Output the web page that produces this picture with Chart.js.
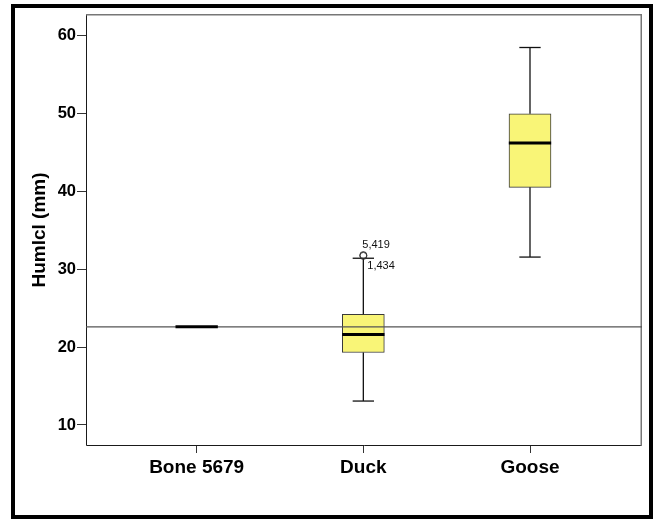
<!DOCTYPE html>
<html>
<head>
<meta charset="utf-8">
<title>Humlcl boxplot</title>
<script src="https://cdn.jsdelivr.net/npm/chart.js@4.4.1/dist/chart.umd.min.js"></script>
<style>
  html, body { margin: 0; padding: 0; background: #fff; }
  #wrap { position: relative; width: 659px; height: 519px; overflow: hidden; background: #fff; }
  #frame { position: absolute; left: 11px; top: 4px; width: 634px; height: 507px; border: 4px solid #000; }
  #box-chart { position: absolute; left: 0; top: 0; }
</style>
</head>
<body>
<div id="wrap">
  <div id="frame"></div>
  <canvas id="box-chart" width="659" height="519"></canvas>
</div>
<script>
// Data
const categories = ['Bone 5679', 'Duck', 'Goose'];
const q1Values = [22.6, 19.3, 40.5];
const q3Values = [22.6, 24.2, 49.95];
const medianValues = [22.6, 21.6, 46.2];
const whiskerLow = [22.6, 13.07, 31.55];
const whiskerHigh = [22.6, 31.4, 58.45];
const outlierCategory = [1, 1];
const outlierValues = [31.8, 31.7];
const outlierLabels = ['5,419', '1,434'];
const referenceValue = 22.6;
const yTicks = [10, 20, 30, 40, 50, 60];

const FONT = "'Liberation Sans', Arial, Helvetica, sans-serif";
const xMin = -0.664, xMax = 2.672;
const yMin = 7.3, yMax = 62.75;
const boxHalf = 0.127;   // half box width in category units
const capHalf = 0.064;   // half whisker cap width

function segment(x0, y0, x1, y1, color, width, order) {
  return {
    type: 'line',
    data: [{ x: x0, y: y0 }, { x: x1, y: y1 }],
    borderColor: color,
    borderWidth: width,
    pointRadius: 0,
    fill: false,
    order: order
  };
}

const datasets = [];

// boxes (floating bars from Q1 to Q3)
datasets.push({
  type: 'bar',
  data: categories
    .map((c, i) => q3Values[i] > q1Values[i] ? { x: i, y: [q1Values[i], q3Values[i]] } : null)
    .filter(Boolean),
  backgroundColor: '#f9f577',
  borderColor: '#3a3a3a',
  borderWidth: 1,
  borderSkipped: false,
  barThickness: 42,
  order: 4
});

// horizontal reference line
datasets.push(segment(xMin, referenceValue, xMax, referenceValue, '#555', 1.2, 3));

// whiskers and caps
categories.forEach((c, i) => {
  if (whiskerHigh[i] > q3Values[i]) {
    datasets.push(segment(i, q3Values[i], i, whiskerHigh[i], '#111', 1.3, 2));
    datasets.push(segment(i - capHalf, whiskerHigh[i], i + capHalf, whiskerHigh[i], '#111', 1.3, 2));
  }
  if (whiskerLow[i] < q1Values[i]) {
    datasets.push(segment(i, whiskerLow[i], i, q1Values[i], '#111', 1.3, 2));
    datasets.push(segment(i - capHalf, whiskerLow[i], i + capHalf, whiskerLow[i], '#111', 1.3, 2));
  }
  // median
  datasets.push(segment(i - boxHalf, medianValues[i], i + boxHalf, medianValues[i], '#000', 3, 1));
});

// outliers
datasets.push({
  type: 'line',
  data: outlierValues.map((v, i) => ({ x: outlierCategory[i], y: v })),
  showLine: false,
  pointRadius: 3.5,
  pointStyle: 'circle',
  pointBackgroundColor: 'rgba(255,255,255,0)',
  pointBorderColor: '#333',
  pointBorderWidth: 1,
  order: 0
});

// plot frame + outlier case labels
const plotExtras = {
  id: 'plotExtras',
  beforeDatasetsDraw(chart) {
    const { ctx, chartArea: a } = chart;
    ctx.save();
    ctx.lineWidth = 1;
    ctx.strokeStyle = '#1a1a1a';
    ctx.beginPath();
    ctx.moveTo(a.left + 0.5, a.top);
    ctx.lineTo(a.left + 0.5, a.bottom - 0.5);
    ctx.lineTo(a.right, a.bottom - 0.5);
    ctx.stroke();
    ctx.lineWidth = 1.5;
    ctx.strokeStyle = '#777';
    ctx.beginPath();
    ctx.moveTo(a.left, a.top + 0.75);
    ctx.lineTo(a.right - 0.75, a.top + 0.75);
    ctx.lineTo(a.right - 0.75, a.bottom);
    ctx.stroke();
    ctx.restore();
  },
  afterDatasetsDraw(chart) {
    const { ctx, scales } = chart;
    const shifts = [[-1, -10], [4, 10]];
    ctx.save();
    ctx.font = '11px ' + FONT;
    ctx.fillStyle = '#111';
    ctx.textBaseline = 'middle';
    outlierLabels.forEach((label, i) => {
      const px = scales.x.getPixelForValue(outlierCategory[i]);
      const py = scales.y.getPixelForValue(outlierValues[i]);
      ctx.fillText(label, px + shifts[i][0], py + shifts[i][1]);
    });
    ctx.restore();
  }
};

new Chart(document.getElementById('box-chart'), {
  type: 'bar',
  data: { datasets: datasets },
  options: {
    responsive: false,
    devicePixelRatio: 1,
    animation: false,
    layout: { padding: { top: 14, right: 17, bottom: 0, left: 0 } },
    plugins: { legend: { display: false }, tooltip: { enabled: false } },
    scales: {
      x: {
        type: 'linear',
        min: xMin,
        max: xMax,
        offset: false,
        border: { display: false },
        grid: { drawOnChartArea: false, drawTicks: true, tickLength: 7, color: '#333', offset: false },
        afterBuildTicks: s => { s.ticks = categories.map((c, i) => ({ value: i })); },
        ticks: {
          callback: v => categories[v],
          font: { family: FONT, size: 19, weight: 'bold' },
          color: '#000',
          padding: 3,
          maxRotation: 0,
          autoSkip: false
        },
        afterFit: s => { s.height = 73; }
      },
      y: {
        type: 'linear',
        min: yMin,
        max: yMax,
        border: { display: false },
        grid: { drawOnChartArea: false, drawTicks: true, tickLength: 9, color: '#333' },
        afterBuildTicks: s => { s.ticks = yTicks.map(v => ({ value: v })); },
        ticks: {
          font: { family: FONT, size: 16.5, weight: 'bold' },
          color: '#000',
          padding: 1
        },
        title: {
          display: true,
          text: 'Humlcl (mm)',
          font: { family: FONT, size: 19, weight: 'bold' },
          color: '#000',
          padding: { top: 28.6, bottom: 0 }
        },
        afterFit: s => { s.width = 86; }
      }
    }
  },
  plugins: [plotExtras]
});
</script>
</body>
</html>
